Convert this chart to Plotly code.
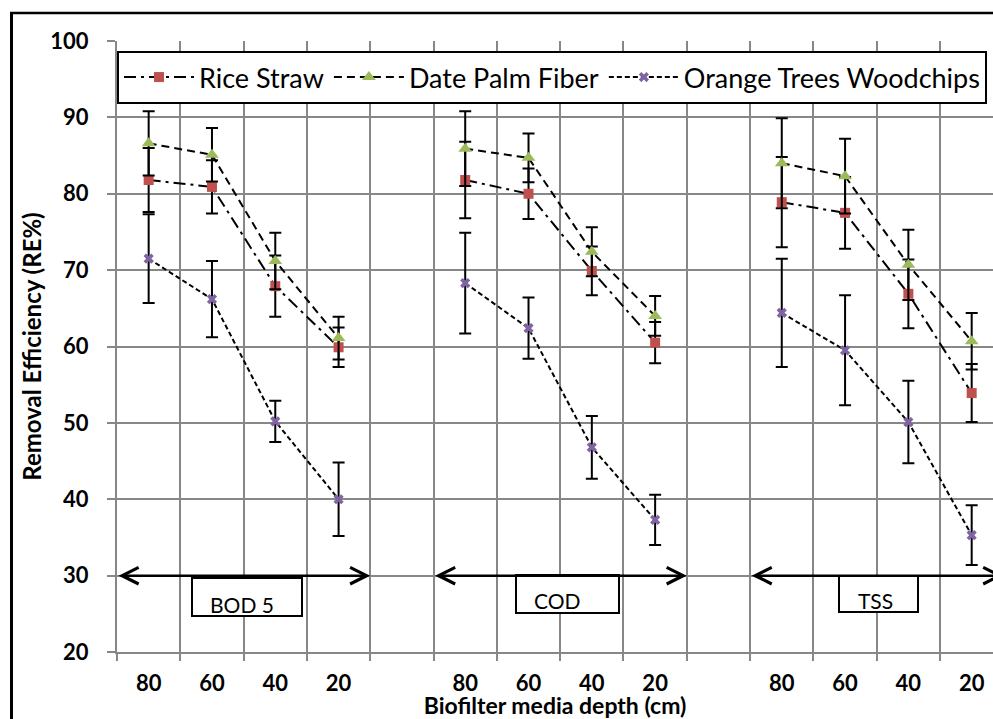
import plotly.graph_objects as go

# ---------------- data ----------------
depths = ["80", "60", "40", "20"]
parameters = ["BOD 5", "COD", "TSS"]

rice_straw = [81.8, 80.9, 67.9, 59.9, 81.8, 80.0, 69.9, 60.5, 78.9, 77.5, 66.9, 53.9]
rice_straw_err = [4.2, 3.5, 4.0, 2.6, 5.0, 3.3, 3.2, 2.7, 5.9, 4.7, 4.5, 3.8]

date_palm = [86.6, 85.1, 71.2, 61.1, 85.9, 84.7, 72.4, 64.0, 84.0, 82.3, 70.7, 60.7]
date_palm_err = [4.2, 3.5, 3.7, 2.8, 4.9, 3.2, 3.2, 2.6, 5.9, 4.9, 4.6, 3.7]

orange_wood = [71.5, 66.2, 50.2, 40.0, 68.3, 62.4, 46.8, 37.3, 64.4, 59.5, 50.1, 35.3]
orange_wood_err = [5.8, 5.0, 2.7, 4.8, 6.6, 4.0, 4.1, 3.3, 7.1, 7.2, 5.4, 3.9]

# ---------------- layout helpers ----------------
W, H = 993, 719
L, T = 117, 41
PB = 652            # plot bottom pixel
STEP_PX = 63.31     # one category in pixels
n_depth = len(depths)
group_step = n_depth + 1
x_right = (W - L) / STEP_PX - 0.5


def px2x(px):
    return (px - L) / STEP_PX - 0.5


def py2y(py):
    return 100 - (py - T) * 80 / (PB - T)


def px2paper(px):
    return (px - L) / (W - L)


def py2paper(py):
    return (PB - py) / (PB - T)


def positions_with_gaps():
    xs = []
    for g in range(len(parameters)):
        if g > 0:
            xs.append(None)
        xs += [g * group_step + i for i in range(n_depth)]
    return xs


def values_with_gaps(vals, fill=None):
    out = []
    for g in range(len(parameters)):
        if g > 0:
            out.append(fill)
        out += vals[g * n_depth:(g + 1) * n_depth]
    return out


xs = positions_with_gaps()
centers = [g * group_step + i for g in range(len(parameters)) for i in range(n_depth)]
center_labels = depths * len(parameters)
boundaries = [b - 0.5 for b in range(len(parameters) * group_step)]

FONT = "Lato"
GRID = "#878787"

fig = go.Figure()

series = [
    ("Rice Straw", rice_straw, rice_straw_err, "12px,5px,3px,5px", "square", "#C0504D", 10),
    ("Date Palm Fiber", date_palm, date_palm_err, "8px,5px", "triangle-up", "#9BBB59", 12),
    ("Orange Trees Woodchips", orange_wood, orange_wood_err, "5px,3px", "x", "#8064A2", 9),
]

for name, vals, errs, dash, sym, col, size in series:
    fig.add_trace(go.Scatter(
        x=xs,
        y=values_with_gaps(vals),
        name=name,
        mode="lines+markers",
        connectgaps=False,
        line=dict(color="black", width=2, dash=dash),
        marker=dict(symbol=sym, color=col, size=size, line=dict(width=0)),
        error_y=dict(type="data", array=values_with_gaps(errs, 0), visible=True,
                     color="black", thickness=2, width=6),
        cliponaxis=False,
    ))

shapes = []
annotations = []

# double-headed arrows at y = 30 spanning each parameter group
for g, pname in enumerate(parameters):
    x0 = g * group_step - 0.5
    x1 = g * group_step + n_depth - 0.5
    annotations.append(dict(
        x=x1, y=30, ax=x0, ay=30, xref="x", yref="y", axref="x", ayref="y",
        text="", showarrow=True, arrowside="end+start",
        arrowhead=5, startarrowhead=5, arrowsize=1.3, startarrowsize=1.3,
        arrowwidth=2.5, arrowcolor="black", standoff=0, startstandoff=0,
    ))

# parameter label boxes (pixel-positioned like the original text boxes)
boxes = [
    (192, 578, 302, 616, 242, 604),
    (516, 575, 619, 613, 557, 600),
    (839, 576, 918, 612, 875, 600),
]
for (bx0, by0, bx1, by1, tx, ty), pname in zip(boxes, parameters):
    shapes.append(dict(type="rect", xref="x", yref="y",
                       x0=px2x(bx0), x1=px2x(bx1), y0=py2y(by1), y1=py2y(by0),
                       line=dict(color="black", width=2), fillcolor="white", layer="above"))
    annotations.append(dict(x=px2x(tx), y=py2y(ty), xref="x", yref="y", text=pname,
                            showarrow=False, font=dict(family=FONT, size=21, color="black"),
                            xanchor="center", yanchor="middle"))

# outer chart frame (left and top edges visible)
shapes.append(dict(type="line", xref="paper", yref="paper",
                   x0=px2paper(11.5), x1=px2paper(11.5), y0=py2paper(12), y1=py2paper(730),
                   line=dict(color="black", width=3)))
shapes.append(dict(type="line", xref="paper", yref="paper",
                   x0=px2paper(10), x1=px2paper(1000), y0=py2paper(13), y1=py2paper(13),
                   line=dict(color="black", width=2.5)))

fig.update_layout(
    width=W, height=H,
    margin=dict(l=L, r=0, t=T, b=H - PB, pad=0),
    paper_bgcolor="white", plot_bgcolor="white",
    font=dict(family=FONT, color="black"),
    showlegend=True,
    legend=dict(orientation="h", x=0, y=py2paper(51), xanchor="left", yanchor="top",
                bgcolor="white", bordercolor="black", borderwidth=2,
                font=dict(family=FONT, size=27, color="black"), itemwidth=70,
                traceorder="normal"),
    xaxis=dict(
        range=[-0.5, x_right], tickmode="array", tickvals=centers, ticktext=center_labels,
        ticks="", showgrid=False, zeroline=False, showline=True, linecolor=GRID, linewidth=2,
        tickfont=dict(family=FONT, size=22, color="black", weight="bold"),
        ticklabelstandoff=11,
        minor=dict(tickmode="array", tickvals=boundaries, showgrid=True, gridcolor=GRID,
                   gridwidth=2, ticks="outside", ticklen=7, tickcolor=GRID, tickwidth=2),
        title=dict(text="<b>Biofilter media depth (cm)</b>", standoff=1,
                   font=dict(family=FONT, size=23, color="black")),
        automargin=False,
    ),
    yaxis=dict(
        range=[20, 100], tickmode="linear", tick0=20, dtick=10,
        ticks="outside", ticklen=8, tickcolor=GRID, tickwidth=2,
        showgrid=True, gridcolor=GRID, gridwidth=2, zeroline=False,
        showline=True, linecolor=GRID, linewidth=2,
        tickfont=dict(family=FONT, size=22, color="black", weight="bold"),
        ticklabelstandoff=14,
        title=dict(text="<b>Removal Efficiency (RE%)</b>", standoff=2,
                   font=dict(family=FONT, size=24, color="black")),
        automargin=False,
    ),
    shapes=shapes,
    annotations=annotations,
)

fig.write_html("out.html")
